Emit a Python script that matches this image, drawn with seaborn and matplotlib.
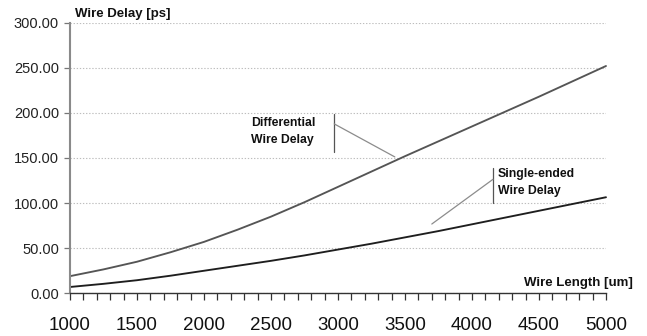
import numpy as np
import pandas as pd
import matplotlib
matplotlib.use("Agg")
import matplotlib.pyplot as plt
from matplotlib.ticker import MultipleLocator
import seaborn as sns

# ---- data ----
wire_length = [1000, 1250, 1500, 1750, 2000, 2250, 2500, 2750, 3000,
               3250, 3500, 3750, 4000, 4250, 4500, 4750, 5000]
differential_delay = [19, 26.5, 35, 45.5, 57, 70.5, 85, 101, 118,
                      135, 152, 168.5, 185, 201.5, 218, 235, 252]
single_ended_delay = [7, 10.5, 14.5, 19.5, 25, 30.5, 36, 42, 48.5,
                      55, 62, 69, 76.5, 84, 91.5, 99, 106.5]
series_names = ["Differential", "Single-ended"]
x_tick_labels = ["1000", "1500", "2000", "2500", "3000", "3500", "4000", "4500", "5000"]
y_tick_labels = ["0.00", "50.00", "100.00", "150.00", "200.00", "250.00", "300.00"]

df = pd.DataFrame({
    "length": wire_length * 2,
    "delay": differential_delay + single_ended_delay,
    "series": [series_names[0]] * len(wire_length) + [series_names[1]] * len(wire_length),
})

sns.set_theme(style="white")
import matplotlib.font_manager as fm
names = {f.name for f in fm.fontManager.ttflist}
base = "Liberation Sans" if "Liberation Sans" in names else "DejaVu Sans"
plt.rcParams["font.family"] = [base, "DejaVu Sans"]

fig = plt.figure(figsize=(6.47, 3.36), dpi=100)
ax = fig.add_axes([70 / 647, 42.7 / 336, 536 / 647, 270.6 / 336])

sns.lineplot(data=df, x="length", y="delay", hue="series",
             palette={series_names[0]: "#555555", series_names[1]: "#1e1e1e"},
             linewidth=1.35, legend=False, ax=ax, clip_on=False)

ax.set_xlim(1000, 5000)
ax.set_ylim(0, 300)

ax.set_yticks([0, 50, 100, 150, 200, 250, 300])
ax.set_yticklabels(y_tick_labels)
ax.grid(axis="y", linestyle=(0, (1.2, 1.6)), color="#bdbdbd", linewidth=0.8)
ax.grid(axis="x", visible=False)

ax.set_xticks([1000, 1500, 2000, 2500, 3000, 3500, 4000, 4500, 5000])
ax.set_xticklabels(x_tick_labels)
ax.xaxis.set_minor_locator(MultipleLocator(100))

ax.tick_params(axis="x", which="both", direction="out", length=5, width=0.9,
               color="#333333", bottom=True)
ax.tick_params(axis="x", which="major", labelsize=13.5, pad=12, labelcolor="#111111")
ax.tick_params(axis="y", which="major", direction="out", length=4, width=0.9,
               color="#777777", left=True, labelsize=10.5, pad=4, labelcolor="#222222")

for s in ["top", "right"]:
    ax.spines[s].set_visible(False)
ax.spines["left"].set_color("#8a8a8a")
ax.spines["left"].set_linewidth(1.5)
ax.spines["bottom"].set_color("#333333")
ax.spines["bottom"].set_linewidth(1.0)

ax.set_xlabel("")
ax.set_ylabel("")

# axis titles
ax.text(0.0093, 1.032, "Wire Delay [ps]", transform=ax.transAxes, fontsize=9.5,
        fontweight="bold", ha="left", va="center", color="#111111")
ax.text(1.0504, 0.038, "Wire Length [um]", transform=ax.transAxes, fontsize=9.5,
        fontweight="bold", ha="right", va="center", color="#111111")

# annotations
lead = "#8c8c8c"
ax.text(0.3377, 0.597, "Differential\nWire Delay", transform=ax.transAxes,
        fontsize=8.8, fontweight="bold", ha="left", va="center",
        linespacing=1.55, color="#111111")
ax.plot([0.493, 0.493], [0.663, 0.523], transform=ax.transAxes, color="#555555",
        linewidth=0.9, clip_on=False)
ax.plot([0.493, 0.606], [0.626, 0.504], transform=ax.transAxes, color=lead,
        linewidth=0.9, clip_on=False)

ax.text(0.798, 0.409, "Single-ended\nWire Delay", transform=ax.transAxes,
        fontsize=8.8, fontweight="bold", ha="left", va="center",
        linespacing=1.55, color="#111111")
ax.plot([0.789, 0.789], [0.462, 0.335], transform=ax.transAxes, color="#555555",
        linewidth=0.9, clip_on=False)
ax.plot([0.789, 0.675], [0.421, 0.256], transform=ax.transAxes, color=lead,
        linewidth=0.9, clip_on=False)

fig.savefig("out.png", dpi=100, facecolor="white")
